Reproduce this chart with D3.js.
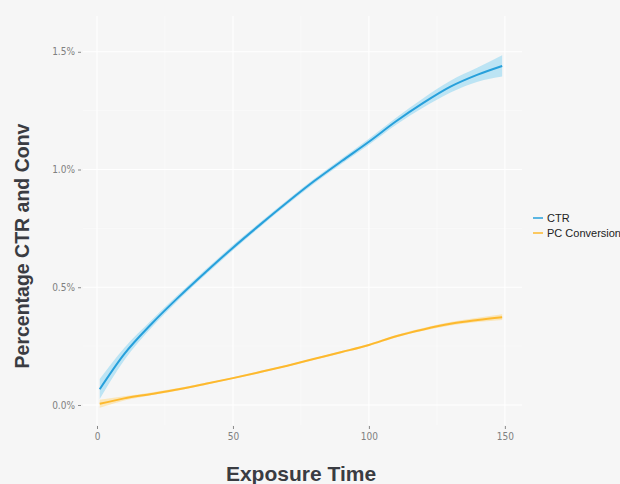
<!DOCTYPE html>
<html><head><meta charset="utf-8">
<script src="https://cdn.jsdelivr.net/npm/d3@7"></script>
<style>
html,body{margin:0;padding:0;background:#f6f6f6;}
svg{display:block;}
</style></head>
<body>
<script>
const exposure = [1,10,20,30,40,50,60,70,80,90,100,110,120,130,140,149];
const ctr      = [0.067,0.216,0.344,0.458,0.565,0.668,0.766,0.861,0.952,1.036,1.118,1.205,1.283,1.352,1.403,1.44];
const ctrLo    = [0.025,0.190,0.328,0.446,0.554,0.657,0.756,0.851,0.942,1.025,1.105,1.190,1.263,1.327,1.373,1.395];
const ctrHi    = [0.110,0.242,0.360,0.470,0.576,0.679,0.776,0.871,0.962,1.047,1.131,1.220,1.303,1.377,1.433,1.485];
const conv     = [0.005,0.028,0.047,0.067,0.090,0.114,0.140,0.167,0.196,0.225,0.255,0.292,0.321,0.345,0.361,0.373];
const convLo   = [-0.012,0.019,0.041,0.062,0.086,0.110,0.136,0.163,0.192,0.221,0.251,0.287,0.315,0.338,0.352,0.361];
const convHi   = [0.022,0.037,0.053,0.072,0.094,0.118,0.144,0.171,0.200,0.229,0.259,0.297,0.327,0.352,0.370,0.385];
const xTicks = [0,50,100,150];
const yTicks = [0,0.5,1.0,1.5];
const yMinor = [0.25,0.75,1.25];
const xMinor = [25,75,125];
const seriesNames = ["CTR","PC Conversion"];
const colors = ["#27a0db","#fdb92e"];
const fills = ["rgba(130,210,242,0.5)","rgba(255,210,110,0.45)"];

const W=620,H=484;
const panel={l:83,r:522,t:16,b:425};
const x=d3.scaleLinear().domain([-5.15,156.3]).range([panel.l,panel.r]);
const y=d3.scaleLinear().domain([-0.085,1.652]).range([panel.b,panel.t]);

const svg=d3.select("body").append("svg").attr("width",W).attr("height",H);
svg.append("rect").attr("width",W).attr("height",H).attr("fill","#f6f6f6");

const g=svg.append("g");
g.selectAll(".ymin").data(yMinor).enter().append("line")
 .attr("x1",panel.l).attr("x2",panel.r).attr("y1",d=>y(d)).attr("y2",d=>y(d))
 .attr("stroke","#fbfbfb").attr("stroke-width",0.6);
g.selectAll(".xmin").data(xMinor).enter().append("line")
 .attr("y1",panel.t).attr("y2",panel.b).attr("x1",d=>x(d)).attr("x2",d=>x(d))
 .attr("stroke","#fbfbfb").attr("stroke-width",0.6);
g.selectAll(".ymaj").data(yTicks).enter().append("line")
 .attr("x1",panel.l).attr("x2",panel.r).attr("y1",d=>y(d)).attr("y2",d=>y(d))
 .attr("stroke","#ffffff").attr("stroke-width",1.1);
g.selectAll(".xmaj").data(xTicks).enter().append("line")
 .attr("y1",panel.t).attr("y2",panel.b).attr("x1",d=>x(d)).attr("x2",d=>x(d))
 .attr("stroke","#ffffff").attr("stroke-width",1.1);

const yAxis=d3.axisLeft(y).tickValues(yTicks).tickSize(3).tickPadding(3)
 .tickFormat(d=>d.toFixed(1)+"%");
const ya=svg.append("g").attr("transform",`translate(${panel.l-2},0)`).call(yAxis);
const xAxis=d3.axisBottom(x).tickValues(xTicks).tickSize(3).tickPadding(4);
const xa=svg.append("g").attr("transform",`translate(0,${panel.b+1})`).call(xAxis);
[ya,xa].forEach(a=>{
  a.select(".domain").remove();
  a.selectAll(".tick line").attr("stroke","#8a8a8a");
  a.selectAll(".tick text").attr("fill","#808080").attr("font-family","'DejaVu Sans Condensed','DejaVu Sans',sans-serif").attr("font-size","10px");
});

const rows=exposure.map((v,i)=>({x:v,ctr:ctr[i],ctrLo:ctrLo[i],ctrHi:ctrHi[i],conv:conv[i],convLo:convLo[i],convHi:convHi[i]}));
const curve=d3.curveMonotoneX;
const defs=[{m:"ctr",lo:"ctrLo",hi:"ctrHi"},{m:"conv",lo:"convLo",hi:"convHi"}];
defs.forEach((s,i)=>{
  svg.append("path").datum(rows)
   .attr("d",d3.area().curve(curve).x(d=>x(d.x)).y0(d=>y(d[s.lo])).y1(d=>y(d[s.hi])))
   .attr("fill",fills[i]);
});
defs.forEach((s,i)=>{
  svg.append("path").datum(rows)
   .attr("d",d3.line().curve(curve).x(d=>x(d.x)).y(d=>y(d[s.m])))
   .attr("fill","none").attr("stroke",colors[i]).attr("stroke-width",2);
});

svg.append("text").attr("x",301).attr("y",481).attr("text-anchor","middle")
 .attr("font-family","'Liberation Sans',Arial,sans-serif").attr("font-weight","bold")
 .attr("font-size","21px").attr("fill","#3a3c42").text("Exposure Time");
svg.append("text").attr("transform","translate(29,246) rotate(-90)").attr("text-anchor","middle")
 .attr("font-family","'Liberation Sans',Arial,sans-serif").attr("font-weight","bold")
 .attr("font-size","19.5px").attr("fill","#3a3c42").text("Percentage CTR and Conv");

const lg=svg.append("g").attr("transform","translate(533,218)");
seriesNames.forEach((n,i)=>{
  lg.append("line").attr("x1",0).attr("x2",10).attr("y1",i*15).attr("y2",i*15)
    .attr("stroke",colors[i]).attr("stroke-width",1.5);
  lg.append("text").attr("x",14).attr("y",i*15+4).attr("font-family","'Liberation Sans',Arial,sans-serif")
    .attr("font-size","11px").attr("fill","#222").text(n);
});
</script>
</body></html>
